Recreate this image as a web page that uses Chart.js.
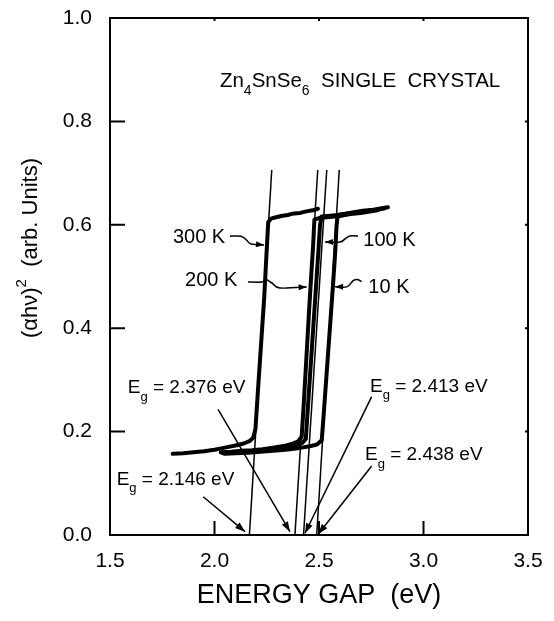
<!DOCTYPE html>
<html><head><meta charset="utf-8">
<script src="https://cdn.jsdelivr.net/npm/chart.js@4/dist/chart.umd.min.js"></script>
<style>html,body{margin:0;padding:0;background:#fff;}canvas{display:block;}</style>
</head><body>
<canvas id="c" width="554" height="621"></canvas>
<script>
// ---------- data ----------
const xTicks = [1.5, 2.0, 2.5, 3.0, 3.5];
const yTicks = [0.0, 0.2, 0.4, 0.6, 0.8, 1.0];
const seriesNames = ['300 K', '200 K', '100 K', '10 K'];

const energy300 = [1.80, 1.85, 1.90, 1.95, 2.00, 2.05, 2.10, 2.14, 2.17, 2.186, 2.196, 2.208, 2.223, 2.238, 2.247, 2.257, 2.27, 2.29, 2.32, 2.35, 2.38, 2.41, 2.44, 2.47, 2.495];
const absorb300 = [0.157, 0.158, 0.160, 0.162, 0.165, 0.169, 0.173, 0.177, 0.182, 0.189, 0.205, 0.28, 0.37, 0.46, 0.53, 0.605, 0.612, 0.614, 0.617, 0.619, 0.622, 0.623, 0.626, 0.628, 0.631];

const energy200 = [2.03, 2.08, 2.13, 2.18, 2.23, 2.28, 2.33, 2.37, 2.40, 2.417, 2.425, 2.438, 2.452, 2.464, 2.472, 2.478, 2.50, 2.55, 2.60, 2.65, 2.70, 2.75, 2.78];
const absorb200 = [0.160, 0.161, 0.163, 0.164, 0.166, 0.169, 0.172, 0.176, 0.181, 0.190, 0.24, 0.33, 0.43, 0.51, 0.56, 0.610, 0.613, 0.615, 0.617, 0.621, 0.623, 0.626, 0.628];

const energy100 = [2.04, 2.09, 2.14, 2.19, 2.24, 2.29, 2.34, 2.39, 2.42, 2.437, 2.444, 2.459, 2.474, 2.489, 2.498, 2.505, 2.512, 2.54, 2.59, 2.64, 2.69, 2.74, 2.78, 2.815];
const absorb100 = [0.158, 0.159, 0.161, 0.163, 0.165, 0.167, 0.170, 0.174, 0.178, 0.186, 0.23, 0.32, 0.41, 0.50, 0.555, 0.600, 0.616, 0.617, 0.619, 0.622, 0.624, 0.627, 0.629, 0.632];

const energy10 = [2.05, 2.10, 2.16, 2.22, 2.28, 2.34, 2.40, 2.45, 2.49, 2.513, 2.521, 2.537, 2.553, 2.569, 2.578, 2.584, 2.590, 2.62, 2.66, 2.71, 2.76, 2.80, 2.83];
const absorb10 = [0.157, 0.158, 0.159, 0.161, 0.163, 0.165, 0.168, 0.171, 0.175, 0.183, 0.225, 0.315, 0.405, 0.495, 0.55, 0.598, 0.619, 0.621, 0.624, 0.627, 0.629, 0.632, 0.634];

// linear extrapolation lines (energy at bottom, energy at top, and their heights)
const tangentEnergyLow  = [2.167, 2.385, 2.426, 2.489];
const tangentEnergyHigh = [2.274, 2.494, 2.537, 2.597];
const tangentLevels = [0.0, 0.706];

const gapLabels = ['2.146 eV', '2.376 eV', '2.413 eV', '2.438 eV'];

// ---------- helpers ----------
const FONT = '"Liberation Sans", Arial, Helvetica, sans-serif';
function pts(xs, ys) { return xs.map((x, i) => ({ x: x, y: ys[i] })); }
function tangent(i) { return [{ x: tangentEnergyLow[i], y: tangentLevels[0] }, { x: tangentEnergyHigh[i], y: tangentLevels[1] }]; }

const curveStyle = { borderColor: '#000', borderWidth: 4, pointRadius: 0, fill: false, tension: 0, borderJoinStyle: 'round', borderCapStyle: 'round' };
const tanStyle = { borderColor: '#000', borderWidth: 1.5, pointRadius: 0, fill: false, tension: 0 };

// annotation geometry in data units
const tempLabels = [
  { text: seriesNames[0], at: [1.801, 0.5764], path: [[2.074, 0.578], [2.127, 0.578], [2.152, 0.571], [2.175, 0.563], [2.237, 0.561]] },
  { text: seriesNames[1], at: [1.859, 0.4932], path: [[2.160, 0.4894], [2.227, 0.4894], [2.246, 0.4942], [2.275, 0.4874], [2.313, 0.4778], [2.441, 0.4797]] },
  { text: seriesNames[2], at: [2.712, 0.5706], path: [[2.687, 0.5783], [2.648, 0.5783], [2.624, 0.5725], [2.600, 0.5667], [2.529, 0.5667]] },
  { text: seriesNames[3], at: [2.736, 0.4787], path: [[2.704, 0.490], [2.684, 0.494], [2.664, 0.492], [2.633, 0.480], [2.577, 0.480]] }
];
const gapNotes = [
  { text: gapLabels[0], at: [1.532, 0.097], from: [1.946, 0.074], to: [2.146, 0.0064] },
  { text: gapLabels[1], at: [1.585, 0.274], from: [2.017, 0.243], to: [2.361, 0.0064] },
  { text: gapLabels[2], at: [2.744, 0.277], from: [2.752, 0.2675], to: [2.433, 0.0033] },
  { text: gapLabels[3], at: [2.720, 0.145], from: [2.752, 0.1335], to: [2.497, 0.002] }
];

function arrowHead(ctx, x0, y0, x1, y1, len, half) {
  const a = Math.atan2(y1 - y0, x1 - x0);
  const c = Math.cos(a), s = Math.sin(a);
  ctx.beginPath();
  ctx.moveTo(x1, y1);
  ctx.lineTo(x1 - len * c + half * s, y1 - len * s - half * c);
  ctx.lineTo(x1 - len * c - half * s, y1 - len * s + half * c);
  ctx.closePath();
  ctx.fill();
}
function richWidth(ctx, parts, size) {
  let w = 0;
  for (const [t, m] of parts) {
    ctx.font = (m ? Math.round(size * 0.68) : size) + 'px ' + FONT;
    w += ctx.measureText(t).width;
  }
  return w;
}
function drawRich(ctx, parts, x, y, size) {
  let cx = x;
  for (const [t, m] of parts) {
    const s = m ? Math.round(size * 0.68) : size;
    ctx.font = s + 'px ' + FONT;
    const dy = m === 1 ? size * 0.40 : (m === 2 ? -size * 0.42 : 0);
    ctx.fillText(t, cx, y + dy);
    cx += ctx.measureText(t).width;
  }
}
function smoothPath(ctx, P) {
  ctx.beginPath();
  ctx.moveTo(P[0][0], P[0][1]);
  for (let i = 0; i < P.length - 1; i++) {
    const p0 = P[Math.max(0, i - 1)], p1 = P[i], p2 = P[i + 1], p3 = P[Math.min(P.length - 1, i + 2)];
    const c1 = [p1[0] + (p2[0] - p0[0]) / 6, p1[1] + (p2[1] - p0[1]) / 6];
    const c2 = [p2[0] - (p3[0] - p1[0]) / 6, p2[1] - (p3[1] - p1[1]) / 6];
    ctx.bezierCurveTo(c1[0], c1[1], c2[0], c2[1], p2[0], p2[1]);
  }
  ctx.stroke();
}

const decorPlugin = {
  id: 'decor',
  afterDatasetsDraw(chart) {
    const ctx = chart.ctx, xs = chart.scales.x, ys = chart.scales.y, A = chart.chartArea;
    const P = (x, y) => [xs.getPixelForValue(x), ys.getPixelForValue(y)];
    ctx.save();
    ctx.strokeStyle = '#000'; ctx.fillStyle = '#000';
    // frame
    ctx.lineWidth = 2;
    ctx.strokeRect(A.left, A.top, A.right - A.left, A.bottom - A.top);
    // inward ticks
    ctx.lineWidth = 2;
    ctx.beginPath();
    yTicks.slice(1, -1).forEach(v => {
      const y = ys.getPixelForValue(v);
      ctx.moveTo(A.left, y); ctx.lineTo(A.left + 15, y);
      ctx.moveTo(A.right, y); ctx.lineTo(A.right - 3, y);
    });
    xTicks.slice(1, -1).forEach(v => {
      const x = xs.getPixelForValue(v);
      ctx.moveTo(x, A.bottom); ctx.lineTo(x, A.bottom - 14);
      ctx.moveTo(x, A.top); ctx.lineTo(x, A.top + 3);
    });
    ctx.stroke();

    // temperature labels with wavy leaders
    ctx.lineWidth = 1.5;
    ctx.textBaseline = 'middle'; ctx.textAlign = 'left';
    tempLabels.forEach(l => {
      const [tx, ty] = P(l.at[0], l.at[1]);
      ctx.font = '20px ' + FONT;
      ctx.fillText(l.text, tx, ty);
      const pp = l.path.map(p => P(p[0], p[1]));
      smoothPath(ctx, pp);
      const a = pp[pp.length - 2], b = pp[pp.length - 1];
      arrowHead(ctx, a[0], a[1], b[0], b[1], 8, 3);
    });

    // band-gap notes with arrows
    ctx.textBaseline = 'alphabetic';
    gapNotes.forEach(g => {
      const [tx, ty] = P(g.at[0], g.at[1]);
      drawRich(ctx, [['E', 0], ['g', 1], [' = ' + g.text, 0]], tx, ty, 19);
      const [x0, y0] = P(g.from[0], g.from[1]);
      const [x1, y1] = P(g.to[0], g.to[1]);
      ctx.beginPath(); ctx.moveTo(x0, y0); ctx.lineTo(x1, y1); ctx.stroke();
      arrowHead(ctx, x0, y0, x1, y1, 10, 3.5);
    });

    // inner title
    const [ttx, tty] = P(2.026, 0.867);
    drawRich(ctx, [['Zn', 0], ['4', 1], ['SnSe', 0], ['6', 1], ['  SINGLE  CRYSTAL', 0]], ttx, tty, 20.5);

    // axis titles
    ctx.textBaseline = 'middle';
    ctx.font = '27px ' + FONT; ctx.textAlign = 'center';
    ctx.fillText('ENERGY GAP  (eV)', (A.left + A.right) / 2, A.bottom + 61);
    const yParts = [['(\u03b1h\u03bd)', 0], ['2', 2], ['  (arb. Units)', 0]];
    ctx.textAlign = 'left';
    ctx.translate(31, A.top + 230);
    ctx.rotate(-Math.PI / 2);
    const W = richWidth(ctx, yParts, 22);
    drawRich(ctx, yParts, -W / 2, 0, 22);
    ctx.restore();
  }
};

const tickFont = { family: FONT, size: 21 };

const chart = new Chart(document.getElementById('c'), {
  type: 'line',
  data: {
    datasets: [
      Object.assign({ label: seriesNames[0], data: pts(energy300, absorb300) }, curveStyle),
      Object.assign({ label: seriesNames[1], data: pts(energy200, absorb200) }, curveStyle),
      Object.assign({ label: seriesNames[2], data: pts(energy100, absorb100) }, curveStyle),
      Object.assign({ label: seriesNames[3], data: pts(energy10, absorb10) }, curveStyle),
      Object.assign({ label: 'fit 300 K', data: tangent(0) }, tanStyle),
      Object.assign({ label: 'fit 200 K', data: tangent(1) }, tanStyle),
      Object.assign({ label: 'fit 100 K', data: tangent(2) }, tanStyle),
      Object.assign({ label: 'fit 10 K', data: tangent(3) }, tanStyle)
    ]
  },
  options: {
    responsive: false,
    animation: false,
    devicePixelRatio: 1,
    parsing: false,
    layout: { padding: { left: 0, right: 26, top: 18, bottom: 0 } },
    plugins: { legend: { display: false }, tooltip: { enabled: false } },
    scales: {
      x: {
        type: 'linear', min: xTicks[0], max: xTicks[xTicks.length - 1],
        afterBuildTicks: s => { s.ticks = xTicks.map(v => ({ value: v })); },
        afterFit: s => { s.height = 86; s.paddingLeft = 0; s.paddingRight = 0; s.paddingTop = 0; s.paddingBottom = 0; },
        grid: { display: false, drawTicks: false },
        border: { display: false },
        ticks: { padding: 14, color: '#000', font: tickFont, maxRotation: 0, autoSkip: false, callback: v => Number(v).toFixed(1) }
      },
      y: {
        type: 'linear', min: yTicks[0], max: yTicks[yTicks.length - 1],
        afterBuildTicks: s => { s.ticks = yTicks.map(v => ({ value: v })); },
        afterFit: s => { s.width = 110; s.paddingLeft = 0; s.paddingRight = 0; s.paddingTop = 0; s.paddingBottom = 0; },
        grid: { display: false, drawTicks: false },
        border: { display: false },
        ticks: { padding: 18, color: '#000', font: tickFont, autoSkip: false, callback: v => Number(v).toFixed(1) }
      }
    }
  },
  plugins: [decorPlugin]
});

// fit the plot frame to the reference frame: left 110, top 18, right 528, bottom 535
(function () {
  const target = { left: 110, top: 18, right: 528, bottom: 535 };
  for (let k = 0; k < 3; k++) {
    const a = chart.chartArea;
    const d = Math.abs(a.left - target.left) + Math.abs(a.top - target.top) + Math.abs(a.right - target.right) + Math.abs(a.bottom - target.bottom);
    if (d < 0.5) break;
    const cur = chart.options.layout.padding;
    const p = { left: cur.left, top: cur.top, right: cur.right, bottom: cur.bottom };
    p.top += target.top - a.top;
    p.left += target.left - a.left;
    p.right += a.right - target.right;
    p.bottom += a.bottom - target.bottom;
    chart.options.layout.padding = p;
    chart.update();
  }
})();
</script>
</body></html>
